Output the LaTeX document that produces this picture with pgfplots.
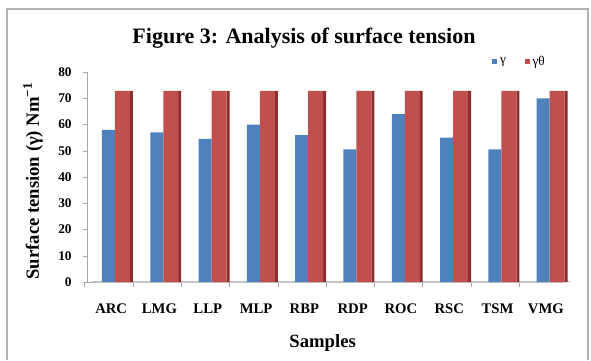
\documentclass[border=0pt]{standalone}
\usepackage{pgfplots}
\pgfplotsset{compat=1.18}
\usepackage{fontspec}
\setmainfont{Liberation Serif}
\definecolor{xlblue}{HTML}{4F81BD}
\definecolor{xlred}{HTML}{C0504D}
\definecolor{xldark}{HTML}{8C2E2C}
\begin{document}
\begin{tikzpicture}
\useasboundingbox (0,0) rectangle (443.25pt,270pt);
\draw[gray!60, line width=1.2pt] (5.25pt,0) -- (5.25pt,263.25pt) -- (441pt,263.25pt) -- (441pt,0);
\begin{axis}[
  at={(65.25pt,58.5pt)}, anchor=south west,
  scale only axis, width=362.25pt, height=157.5pt,
  xmin=-0.5, xmax=9.5, ymin=0, ymax=80,
  clip=false,
  axis x line*=bottom, axis y line*=left,
  x axis line style={draw=none},
  y axis line style={gray!70},
  xtick={0,...,9},
  xticklabels={ARC,LMG,LLP,MLP,RBP,RDP,ROC,RSC,TSM,VMG},
  major x tick style={draw=none},
  ytick={0,10,...,80},
  y tick style={gray!70},
  tick align=outside, major tick length=3pt,
  /pgf/number format/assume math mode=true,
  yticklabel style={font=\bfseries\fontsize{10}{12}\selectfont, xshift=-5pt},
  xticklabel style={font=\bfseries\fontsize{11}{12}\selectfont, yshift=-10pt},
  legend style={at={(0.896,1.048)}, anchor=center, draw=none, fill=none,
    legend columns=2, font=\fontsize{10}{11}\selectfont,
    /tikz/every even column/.append style={column sep=12pt}},
  legend image code/.code={\fill[#1] (0pt,-1.5pt) rectangle (4pt,2.5pt);},
]
\draw[gray!70] (axis cs:-0.5,-0.2) -- (axis cs:9.29,-0.2) -- (axis cs:9.5,0.27) -- (axis cs:-0.29,0.27) -- cycle;
\pgfplotsinvokeforeach{0,...,9}{\draw[gray!70] (axis cs:#1-0.55,-0.2) -- ++(0pt,-3pt);}
\addplot[ybar, bar width=9.75pt, bar shift=-2pt, fill=xlblue, draw=none] coordinates {
(0,58) (1,57) (2,54.5) (3,60) (4,56) (5,50.5) (6,64) (7,55) (8,50.5) (9,70)};
\addlegendentry{γ}
\addplot[ybar, bar width=2.25pt, bar shift=15.2pt, fill=xldark, draw=none, forget plot] coordinates {
(0,72.8) (1,72.8) (2,72.8) (3,72.8) (4,72.8) (5,72.8) (6,72.8) (7,72.8) (8,72.8) (9,72.8)};
\addplot[ybar, bar width=11.25pt, bar shift=8.5pt, fill=xlred, draw=none] coordinates {
(0,72.8) (1,72.8) (2,72.8) (3,72.8) (4,72.8) (5,72.8) (6,72.8) (7,72.8) (8,72.8) (9,72.8)};
\addlegendentry{γθ}
\end{axis}
\node[font=\bfseries\fontsize{16.5}{18}\selectfont] at (228pt,241pt) {Figure 3: Analysis of surface tension};
\node[font=\bfseries\fontsize{14}{16}\selectfont, rotate=90] at (24.75pt,134.25pt) {Surface tension (γ) Nm\textsuperscript{−1}};
\node[font=\bfseries\fontsize{14}{16}\selectfont] at (242pt,12.75pt) {Samples};
\end{tikzpicture}
\end{document}
